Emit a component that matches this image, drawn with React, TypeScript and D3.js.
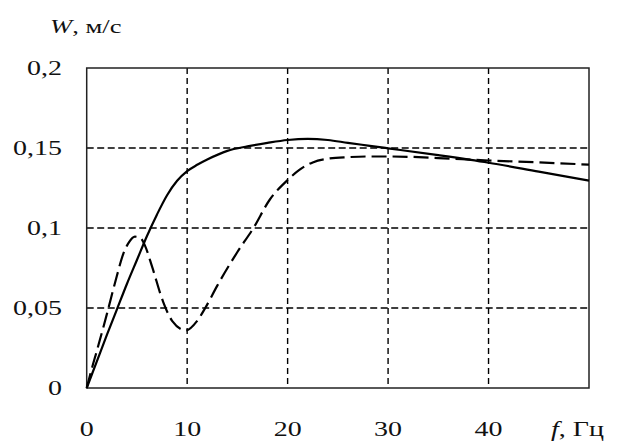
import React from 'react';
import * as d3 from 'd3';

// solid curve: f (Hz), W (m/s)
const solidF = [0, 1, 2, 3, 4, 5, 6, 7, 8, 9, 10, 11, 12, 14, 16, 18, 20, 22, 24, 26, 28, 30, 35, 40, 45, 50];
const solidW = [0, 0.0165, 0.033, 0.049, 0.065, 0.08, 0.095, 0.1085, 0.1205, 0.1295, 0.1355, 0.1395, 0.1428, 0.1482, 0.151, 0.1532, 0.155, 0.1557, 0.155, 0.1532, 0.1515, 0.1498, 0.1455, 0.1408, 0.1352, 0.1296];

// dashed curve
const dashF = [0, 0.56, 1, 2, 3, 3.65, 4.2, 4.8, 5.3, 5.8, 6.5, 7.6, 8.5, 9.9, 11, 11.8, 13, 15, 16.6, 18.2, 20, 21.2, 22.5, 24.2, 26, 28, 30, 32, 35, 40, 45, 50];
const dashW = [0, 0.0133, 0.023, 0.046, 0.07, 0.084, 0.091, 0.0946, 0.094, 0.089, 0.076, 0.054, 0.042, 0.036, 0.042, 0.05, 0.064, 0.085, 0.1, 0.1175, 0.13, 0.1365, 0.141, 0.1435, 0.1443, 0.1447, 0.1447, 0.1445, 0.1437, 0.1422, 0.141, 0.1396];

const xTicks = [0, 10, 20, 30, 40];
const yTicks = [0, 0.05, 0.1, 0.15, 0.2];
const yTickLabels = ['0', '0,05', '0,1', '0,15', '0,2'];
const xGrid = [10, 20, 30, 40];
const yGrid = [0.05, 0.1, 0.15];

const W = 624;
const H = 444;
const SX = 1.4; // the source picture is stretched horizontally
const font = '"Liberation Serif", "Times New Roman", serif';

const App = () => {
  const x = d3.scaleLinear().domain([0, 50]).range([86.7, 589]);
  const y = d3.scaleLinear().domain([0, 0.2]).range([388, 68]);

  const line = d3.line<[number, number]>()
    .x(d => x(d[0]))
    .y(d => y(d[1]))
    .curve(d3.curveMonotoneX);

  const solid = line(solidF.map((f, i) => [f, solidW[i]] as [number, number])) || '';
  const dashed = line(dashF.map((f, i) => [f, dashW[i]] as [number, number])) || '';

  return (
    <svg width={W} height={H} style={{ position: 'absolute', left: 0, top: 0, background: '#fff' }}>
      {/* grid */}
      {xGrid.map(v => (
        <line key={'gx' + v} x1={x(v)} x2={x(v)} y1={y(0.2)} y2={y(0)}
          stroke="#000" strokeWidth={1.4} strokeDasharray="6,4" />
      ))}
      {yGrid.map(v => (
        <line key={'gy' + v} x1={x(0)} x2={x(50)} y1={y(v)} y2={y(v)}
          stroke="#000" strokeWidth={1.4} strokeDasharray="7,3.5" />
      ))}
      {/* frame */}
      <rect x={x(0)} y={y(0.2)} width={x(50) - x(0)} height={y(0) - y(0.2)}
        fill="none" stroke="#222" strokeWidth={1.5} />

      {/* curves */}
      <path d={dashed} fill="none" stroke="#000" strokeWidth={2.2} strokeDasharray="15,6" />
      <path d={solid} fill="none" stroke="#000" strokeWidth={2.2} />

      {/* y tick labels */}
      {yTicks.map((v, i) => (
        <g key={'yt' + v} transform={`translate(62,${y(v) + 7}) scale(${SX},1)`}>
          <text textAnchor="end" fontFamily={font} fontSize={20} fill="#111">{yTickLabels[i]}</text>
        </g>
      ))}
      {/* x tick labels */}
      {xTicks.map(v => (
        <g key={'xt' + v} transform={`translate(${x(v)},436) scale(${SX},1)`}>
          <text textAnchor="middle" fontFamily={font} fontSize={20} fill="#111">{v}</text>
        </g>
      ))}

      {/* axis titles */}
      <g transform={`translate(50,33) scale(${SX},1)`}>
        <text fontFamily={font} fontSize={19} fill="#111">
          <tspan fontStyle="italic">W</tspan>, м/с
        </text>
      </g>
      <g transform={`translate(551,436) scale(${SX},1)`}>
        <text fontFamily={font} fontSize={20} fill="#111">
          <tspan fontStyle="italic">f</tspan>, Гц
        </text>
      </g>
    </svg>
  );
};

export default App;
